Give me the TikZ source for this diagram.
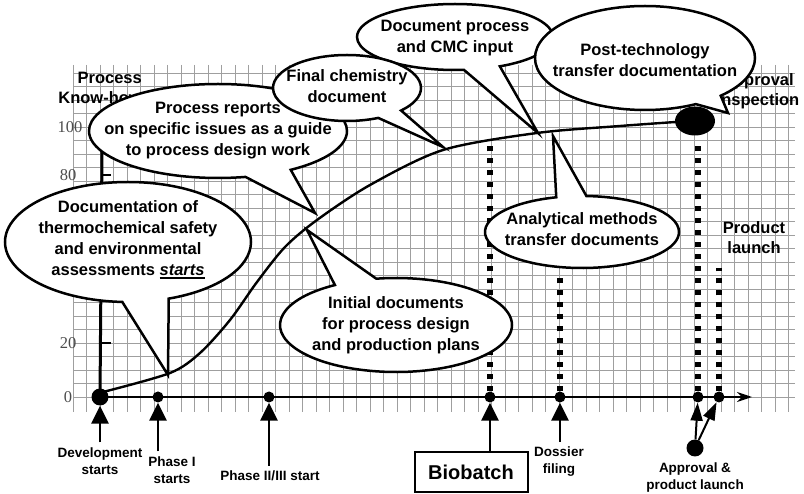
\documentclass[tikz,border=0pt]{standalone}
\usepackage{fontspec}
\setmainfont{Liberation Sans}
\newfontfamily\scalefont{Liberation Serif}
\newcommand{\thickul}[1]{\leavevmode\vtop{\hbox{#1}\kern1.2pt\hrule height 1.8pt}}
\usetikzlibrary{shapes.geometric,shapes.callouts,arrows.meta}

\tikzset{
  gridline/.style = {gray!75, line width=0.7pt},
  bubble/.style = {ellipse callout, draw=black, fill=white, line width=2.5pt,
                   inner sep=0pt, callout pointer arc=22},
  bubtext/.style = {font=\bfseries\fontsize{16.5}{21}\selectfont, align=center, inner sep=0pt},
  biglab/.style = {font=\bfseries\fontsize{16.5}{20}\selectfont, align=center, inner sep=0pt},
  smalllab/.style = {font=\bfseries\fontsize{13.5}{17}\selectfont, align=center,
                     inner xsep=1pt, inner ysep=5pt},
  scalenum/.style = {font=\scalefont\fontsize{16.5}{20}\selectfont, text=black!70, inner sep=0pt},
  axdot/.style = {circle, fill=black, inner sep=0pt, minimum size=11pt},
  uparrow/.style = {line width=2.8pt, -{Triangle[width=17pt,length=18pt]}},
  thinup/.style = {line width=2pt, -{Triangle[width=12pt,length=18pt]}},
  milestone/.style = {line width=5.5pt, line cap=butt, dash pattern=on 5pt off 7pt}
}

\begin{document}
\begin{tikzpicture}[x=1pt, y=-1pt]
  \useasboundingbox (0,0) rectangle (804,494);

  % grid paper
  \foreach \k in {-2,...,51}
    \draw[gridline] ({100+\k*13.5},65) -- ({100+\k*13.5},412);
  \foreach \k in {0,...,24}
    \draw[gridline] (73,{397-\k*13.5}) -- (795,{397-\k*13.5});

  % axis names and scale
  \node[biglab, align=right, anchor=east] (yname) at (142,88) {Process\\Know-how};
  \node[biglab] (apptext) at (758,91) {Approval\\inspection};
  \node[biglab] (lchtext) at (754,238) {Product\\launch};
  \node[scalenum] (n100) at (70,127) {100};
  \node[scalenum] (n80) at (68,175) {80};
  \node[scalenum] (n20) at (68,343) {20};
  \node[scalenum] (n0) at (68,397) {0};

  % axes
  \coordinate (ytop) at (102,150);
  \coordinate (xend) at (752,397);
  \coordinate (t20) at (111,343);
  \coordinate (t80) at (111,175);
  \node[axdot, minimum size=17pt] (devdot) at (100,397) {};
  \draw[line width=2pt, -{Stealth[length=15pt,width=10pt]}] (devdot.center) -- (xend);
  \draw[line width=3pt] (devdot.center) -- (ytop);
  \draw[line width=2pt] (t20) -- (t20 -| ytop);
  \draw[line width=2pt] (t80) -- (t80 -| ytop);

  % milestones on the time axis
  \node[axdot] (ph1dot) at (158,397) {};
  \node[axdot] (ph23dot) at (269,397) {};
  \node[axdot] (biodot) at (490,397) {};
  \node[axdot] (dosdot) at (560,397) {};
  \node[axdot] (appdot) at (698,397) {};
  \node[axdot] (lchdot) at (719,397) {};

  \coordinate (biotop) at (490,145);
  \coordinate (dostop) at (560,276);
  \coordinate (apptop) at (698,140);
  \coordinate (lchtop) at (719,268);
  \draw[milestone] (biodot) -- (biotop);
  \draw[milestone] (dosdot) -- (dostop);
  \draw[milestone] (appdot) -- (apptop);
  \draw[milestone] (lchdot) -- (lchtop);

  \node[smalllab] (devlab) at (100,461) {Development\\starts};
  \node[smalllab] (ph1lab) at (172,470) {Phase I\\starts};
  \node[smalllab] (ph23lab) at (270,476) {Phase II/III start};
  \node[smalllab] (doslab) at (559,462) {Dossier\\filing};
  \node[smalllab] (applab) at (695,478) {Approval \&\\product launch};
  \node[draw, line width=2pt, minimum width=113pt, minimum height=40pt,
        font=\bfseries\fontsize{20}{24}\selectfont] (bio) at (471,472) {Biobatch};
  \node[axdot, minimum size=17pt] (appsrc) at (695,448) {};

  \draw[uparrow] (devdot |- devlab.north) -- (devdot);
  \draw[uparrow] (ph1dot |- ph1lab.north) -- (ph1dot);
  \draw[uparrow] (ph23dot |- ph23lab.north) -- (ph23dot);
  \draw[uparrow] (biodot |- bio.north) -- (biodot);
  \draw[uparrow] (dosdot |- doslab.north) -- (dosdot);
  \draw[thinup] (appsrc) -- (appdot);
  \draw[thinup] (appsrc) -- (lchdot);

  % know-how curve
  \draw[line width=2.4pt] plot[smooth] coordinates {(103,392) (170,373) (200,353)
    (230,320) (257,282) (285,247) (317,220) (370,185) (443,150) (537,133)
    (620,126) (690,121)};
  \node[ellipse, fill=black, minimum width=40pt, minimum height=29pt] (appball) at (695,121) {};

  % callouts
  \coordinate (tipdoc) at (168,375);
  \coordinate (tiprep) at (315,213);
  \coordinate (tipchem) at (443,147);
  \coordinate (tipcmc) at (538,133);
  \coordinate (tippost) at (728,113);
  \coordinate (tipana) at (553,136);
  \coordinate (tipinit) at (307,230);

  \node[bubble, minimum width=246pt, minimum height=120pt,
        callout absolute pointer={(tipdoc)}] (doc) at (128,242) {};
  \node[bubtext] (doc-t) at (128,240) {Documentation of\\thermochemical safety\\and environmental\\assessments \thickul{\itshape starts}};

  \node[bubble, minimum width=258pt, minimum height=94pt,
        callout absolute pointer={(tiprep)}] (rep) at (218,131) {};
  \node[bubtext] (rep-t) at (218,131) {Process reports\\on specific issues as a guide\\to process design work};

  \node[bubble, minimum width=196pt, minimum height=66pt,
        callout absolute pointer={(tipcmc)}] (cmc) at (455,37) {};
  \node[bubtext] (cmc-t) at (455,38) {Document process\\and CMC input};

  \node[bubble, minimum width=148pt, minimum height=66pt,
        callout absolute pointer={(tipchem)}] (chem) at (347,88) {};
  \node[bubtext] (chem-t) at (347,86) {Final chemistry\\document};

  \node[bubble, minimum width=220pt, minimum height=104pt, callout pointer arc=16,
        callout absolute pointer={(tippost)}] (post) at (645,58) {};
  \node[bubtext] (post-t) at (645,60) {Post-technology\\transfer documentation};

  \node[bubble, minimum width=194pt, minimum height=72pt, callout pointer arc=18,
        callout absolute pointer={(tipana)}] (ana) at (582,232) {};
  \node[bubtext] (ana-t) at (582,229) {Analytical methods\\transfer documents};

  \node[bubble, minimum width=232pt, minimum height=94pt,
        callout absolute pointer={(tipinit)}] (init) at (396,325) {};
  \node[bubtext] (init-t) at (396,325) {Initial documents\\for process design\\and production plans};
\end{tikzpicture}
\end{document}
